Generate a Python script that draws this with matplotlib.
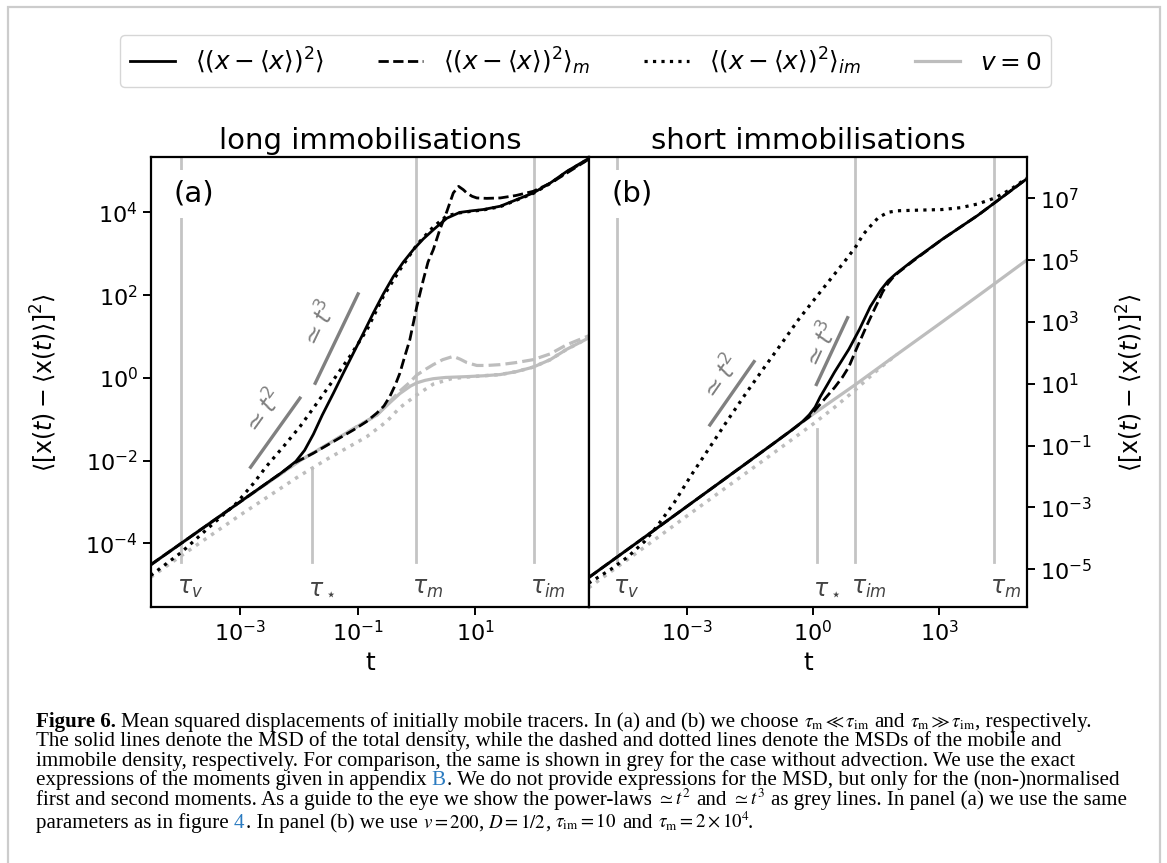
import numpy as np
import matplotlib
matplotlib.use("Agg")
import matplotlib.pyplot as plt
from matplotlib import transforms
from matplotlib.lines import Line2D
from matplotlib.patches import Rectangle
from matplotlib.ticker import FixedLocator, NullLocator

# ---------------- data: log10(t) and log10(MSD) ----------------
# panel (a) long immobilisations
a_total_lt = [-4.52, -4.0, -3.5, -3.0, -2.6, -2.3, -2.05, -1.9, -1.75, -1.6, -1.41, -1.24, -1.07, -0.9,
              -0.73, -0.56, -0.39, -0.22, -0.05, 0.12, 0.29, 0.52, 0.74, 0.95, 1.14, 1.43, 1.71, 1.99,
              2.28, 2.56, 2.94]
a_total_lm = [-4.52, -4.0, -3.5, -3.0, -2.6, -2.3, -2.02, -1.75, -1.36, -0.90, -0.37, 0.12, 0.60, 1.08,
              1.57, 2.03, 2.45, 2.80, 3.10, 3.36, 3.58, 3.86, 4.00, 4.04, 4.07, 4.15, 4.31, 4.47,
              4.71, 4.99, 5.31]
a_mob_lt = [-4.52, -4.0, -3.5, -3.0, -2.6, -2.3, -2.05, -1.75, -1.41, -1.07, -0.85, -0.67, -0.55, -0.45,
            -0.36, -0.28, -0.2, -0.11, 0.01, 0.12, 0.20, 0.29, 0.40, 0.52, 0.63, 0.72, 0.80, 0.86, 0.95,
            1.03, 1.2, 1.43, 1.7, 1.99, 2.3, 2.56, 2.94]
a_mob_lm = [-4.52, -4.0, -3.5, -3.0, -2.6, -2.3, -2.04, -1.82, -1.54, -1.26, -1.06, -0.85, -0.68, -0.45,
            -0.18, 0.11, 0.50, 0.92, 1.73, 2.37, 2.80, 3.10, 3.58, 4.02, 4.47, 4.63, 4.55, 4.47, 4.39,
            4.35, 4.34, 4.35, 4.41, 4.51, 4.72, 4.95, 5.29]
a_imm_lt = [-4.52, -4.0, -3.5, -3.06, -2.77, -2.55, -2.26, -1.98, -1.69, -1.41, -1.13, -0.84, -0.56,
            -0.28, 0.01, 0.29, 0.52, 0.74, 0.95, 1.14, 1.43, 1.71, 1.99, 2.28, 2.56, 2.94]
a_imm_lm = [-4.78, -4.22, -3.58, -3.03, -2.55, -2.14, -1.66, -1.18, -0.61, -0.05, 0.52, 1.16, 1.97,
            2.61, 3.22, 3.65, 3.92, 3.99, 4.03, 4.06, 4.14, 4.30, 4.46, 4.70, 4.98, 5.30]
a_v0_total_lt = [-4.52, -3.0, -2.0, -1.5, -1.0, -0.67, -0.45, -0.28, -0.1, 0.01, 0.15, 0.29, 0.5, 0.86,
                 1.14, 1.43, 1.7, 1.99, 2.28, 2.56, 2.94]
a_v0_total_lm = [-4.52, -3.0, -2.02, -1.6, -1.17, -0.90, -0.60, -0.38, -0.2, -0.12, -0.06, -0.02, 0.01,
                 0.03, 0.05, 0.08, 0.15, 0.26, 0.44, 0.69, 0.97]
a_v0_mob_lt = [-4.52, -3.0, -2.0, -1.5, -1.0, -0.67, -0.45, -0.28, -0.12, 0.01, 0.15, 0.29, 0.45, 0.63,
               0.75, 0.86, 1.03, 1.2, 1.43, 1.7, 1.99, 2.28, 2.56, 2.94]
a_v0_mob_lm = [-4.52, -3.0, -2.02, -1.6, -1.17, -0.90, -0.57, -0.32, -0.12, 0.07, 0.20, 0.32, 0.44, 0.52,
               0.45, 0.37, 0.30, 0.30, 0.32, 0.37, 0.44, 0.58, 0.80, 1.02]
a_v0_imm_lt = [-4.52, -4.0, -3.0, -2.0, -1.5, -1.0, -0.84, -0.5, -0.28, 0.01, 0.29, 0.6, 0.86, 1.14,
               1.43, 1.7, 1.99, 2.28, 2.56, 2.94]
a_v0_imm_lm = [-4.82, -4.30, -3.32, -2.38, -1.95, -1.55, -1.42, -1.05, -0.72, -0.41, -0.15, -0.02, 0.02,
               0.05, 0.08, 0.15, 0.26, 0.44, 0.69, 0.97]
a_t2_lt, a_t2_lm = [-2.82, -1.98], [-2.16, -0.49]
a_t3_lt, a_t3_lm = [-1.72, -0.99], [-0.13, 2.03]
a_tau_names = [r"$\tau_v$", r"$\tau_\star$", r"$\tau_m$", r"$\tau_{im}$"]
a_tau_vals = [1e-4, 0.017, 1.0, 100.0]

# panel (b) short immobilisations
b_total_lt = [-5.33, -4.0, -3.0, -2.0, -1.0, -0.5, -0.25, -0.09, 0.05, 0.17, 0.35, 0.51, 0.68, 0.85,
              1.10, 1.36, 1.61, 1.78, 1.95, 2.38, 3.06, 3.91, 4.5, 5.09]
b_total_lm = [-5.27, -3.96, -2.97, -1.98, -0.99, -0.49, -0.22, 0.0, 0.25, 0.58, 1.0, 1.38, 1.75, 2.12,
              2.76, 3.50, 4.04, 4.33, 4.54, 5.0, 5.67, 6.45, 7.05, 7.65]
b_mob_lt = [-5.33, -4.0, -3.0, -2.0, -1.0, -0.5, -0.25, -0.1, 0.08, 0.3, 0.51, 0.7, 0.85, 1.02, 1.15,
            1.27, 1.40, 1.53, 1.65, 1.78, 1.92, 2.04, 2.38, 3.06, 3.91, 4.5, 5.09]
b_mob_lm = [-5.27, -3.96, -2.97, -1.98, -0.99, -0.49, -0.23, -0.08, 0.20, 0.55, 0.88, 1.22, 1.55, 2.10,
            2.50, 2.87, 3.25, 3.62, 3.97, 4.25, 4.48, 4.62, 4.98, 5.67, 6.45, 7.05, 7.65]
b_imm_lt = [-5.33, -4.8, -4.4, -4.0, -3.7, -3.3, -2.89, -2.5, -2.04, -1.6, -1.19, -0.75, -0.34, 0.1,
            0.51, 0.8, 1.02, 1.2, 1.36, 1.55, 1.78, 2.0, 2.5, 3.06, 3.5, 3.91, 4.33, 4.7, 5.09]
b_imm_lm = [-5.45, -5.0, -4.6, -4.1, -3.6, -2.85, -1.95, -1.15, -0.2, 0.68, 1.47, 2.3, 3.09, 3.85,
            4.55, 5.05, 5.45, 5.85, 6.1, 6.38, 6.55, 6.6, 6.62, 6.64, 6.7, 6.82, 7.02, 7.3, 7.67]
b_v0_total_lt = [-5.33, -3.0, -1.0, 0.0, 1.0, 2.0, 3.0, 4.0, 5.09]
b_v0_total_lm = [-5.27, -2.97, -0.99, 0.02, 0.97, 1.96, 2.94, 3.93, 5.02]
b_v0_imm_lt = [-5.33, -4.0, -3.0, -2.0, -1.0, -0.5, 0.0, 0.5, 1.0, 1.3, 1.6, 2.0]
b_v0_imm_lm = [-5.6, -4.28, -3.28, -2.29, -1.3, -0.8, -0.3, 0.23, 0.8, 1.17, 1.53, 1.96]
b_t2_lt, b_t2_lm = [-2.45, -1.40], [-0.33, 1.72]
b_t3_lt, b_t3_lm = [0.08, 0.82], [0.98, 3.14]
b_tau_names = [r"$\tau_v$", r"$\tau_\star$", r"$\tau_{im}$", r"$\tau_m$"]
b_tau_vals = [2.2e-5, 1.24, 10.0, 2e4]

legend_labels = [r"$\langle(x-\langle x\rangle)^2\rangle$",
                 r"$\langle(x-\langle x\rangle)^2\rangle_m$",
                 r"$\langle(x-\langle x\rangle)^2\rangle_{im}$",
                 r"$v=0$"]
titles = ["long immobilisations", "short immobilisations"]
ylabel = r"$\langle[\mathrm{x}(t)-\langle \mathrm{x}(t)\rangle]^2\rangle$"

# caption: each line is a list of (text, style, space-before) pieces
BLUE = '#2b7bc0'
caption = [
    [("Figure 6.", 'bold', 1),
     ("Mean squared displacements of initially mobile tracers. In (a) and (b) we choose", '', 1),
     (r"$\tau_\mathrm{m} \ll \tau_\mathrm{im}$", 'math', 1), ("and", '', 1),
     (r"$\tau_\mathrm{m} \gg \tau_\mathrm{im}$", 'math', 1), (", respectively.", '', 0)],
    [("The solid lines denote the MSD of the total density, while the dashed and dotted lines denote "
      "the MSDs of the mobile and", '', 1)],
    [("immobile density, respectively. For comparison, the same is shown in grey for the case without "
      "advection. We use the exact", '', 1)],
    [("expressions of the moments given in appendix", '', 1), ("B", 'blue', 1),
     (". We do not provide expressions for the MSD, but only for the (non-)normalised", '', 0)],
    [("first and second moments. As a guide to the eye we show the power-laws", '', 1),
     (r"$\simeq t^2$", 'math', 1), ("and", '', 1), (r"$\simeq t^3$", 'math', 1),
     ("as grey lines. In panel (a) we use the same", '', 1)],
    [("parameters as in figure", '', 1), ("4", 'blue', 1), (". In panel (b) we use", '', 0),
     (r"$v = 200$", 'math', 1), (",", '', 0), (r"$D = 1/2$", 'math', 1), (",", '', 0),
     (r"$\tau_\mathrm{im} = 10$", 'math', 1), ("and", '', 1),
     (r"$\tau_\mathrm{m} = 2 \times 10^4$", 'math', 1), (".", '', 0)],
]

# ---------------- styling ----------------
plt.rcParams['font.family'] = ['DejaVu Sans']
plt.rcParams['mathtext.fontset'] = 'dejavusans'

W, H = 1167, 863
fig = plt.figure(figsize=(W / 100, H / 100), dpi=100)

BLACK = 'black'
LGREY = '#bdbdbd'
VGREY = '#c4c4c4'
DGREY = '#808080'
LW = 2.0

ax_a = fig.add_axes([151 / W, (H - 607) / H, 438 / W, 450 / H])
ax_b = fig.add_axes([589 / W, (H - 607) / H, 438 / W, 450 / H])


def p(v):
    return 10.0 ** np.asarray(v)


def setup(ax, xlim, ylim, xt, yt, title):
    ax.set_xscale('log')
    ax.set_yscale('log')
    ax.set_xlim(10 ** xlim[0], 10 ** xlim[1])
    ax.set_ylim(10 ** ylim[0], 10 ** ylim[1])
    ax.xaxis.set_major_locator(FixedLocator([10.0 ** e for e in xt]))
    ax.yaxis.set_major_locator(FixedLocator([10.0 ** e for e in yt]))
    ax.xaxis.set_minor_locator(NullLocator())
    ax.yaxis.set_minor_locator(NullLocator())
    ax.tick_params(labelsize=16, length=6, width=1.4, direction='out')
    for s in ax.spines.values():
        s.set_linewidth(1.6)
    ax.set_title(title, fontsize=21, pad=6)
    ax.set_xlabel('t', fontsize=18)


setup(ax_a, (-4.515, 2.94), (-5.54, 5.34), [-3, -1, 1], [-4, -2, 0, 2, 4], titles[0])
setup(ax_b, (-5.32, 5.08), (-6.22, 8.34), [-3, 0, 3], [-5, -3, -1, 1, 3, 5, 7], titles[1])
ax_b.yaxis.tick_right()
ax_b.yaxis.set_label_position('right')
ax_a.set_ylabel(ylabel, fontsize=17)
ax_b.set_ylabel(ylabel, fontsize=17)
ax_a.yaxis.set_label_coords(-0.208, 0.5)
ax_b.yaxis.set_label_coords(1.20, 0.5)


def taus(ax, vals, names, star_top):
    bl = transforms.blended_transform_factory(ax.transData, ax.transAxes)
    off = bl + transforms.ScaledTranslation(-4 / 100, 0, fig.dpi_scale_trans)
    for v, n in zip(vals, names):
        top = star_top if 'star' in n else 1.0
        ax.axvline(v, ymin=0.1, ymax=top, color=VGREY, lw=2.0, zorder=1)
        ax.text(v, 0.043, n, transform=off, ha='left', va='center', fontsize=17,
                color='#444444')


taus(ax_a, a_tau_vals, a_tau_names, 0.31)
taus(ax_b, b_tau_vals, b_tau_names, 0.395)

# grey (v = 0) curves
ax_a.plot(p(a_v0_imm_lt), p(a_v0_imm_lm), ls=':', color=LGREY, lw=LW + 0.5, zorder=2)
ax_a.plot(p(a_v0_mob_lt), p(a_v0_mob_lm), ls='--', color=LGREY, lw=LW + 0.3, zorder=2)
ax_a.plot(p(a_v0_total_lt), p(a_v0_total_lm), ls='-', color=LGREY, lw=LW + 0.3, zorder=2)
ax_b.plot(p(b_v0_imm_lt), p(b_v0_imm_lm), ls=':', color=LGREY, lw=LW + 0.5, zorder=2)
ax_b.plot(p(b_v0_total_lt), p(b_v0_total_lm), ls='-', color=LGREY, lw=LW + 0.3, zorder=2)

# black curves
ax_a.plot(p(a_imm_lt), p(a_imm_lm), ls=':', color=BLACK, lw=LW + 0.3, zorder=3)
ax_a.plot(p(a_mob_lt), p(a_mob_lm), ls='--', color=BLACK, lw=LW, zorder=3)
ax_a.plot(p(a_total_lt), p(a_total_lm), ls='-', color=BLACK, lw=LW, zorder=4)
ax_b.plot(p(b_imm_lt), p(b_imm_lm), ls=':', color=BLACK, lw=LW + 0.3, zorder=3)
ax_b.plot(p(b_mob_lt), p(b_mob_lm), ls='--', color=BLACK, lw=LW, zorder=3)
ax_b.plot(p(b_total_lt), p(b_total_lm), ls='-', color=BLACK, lw=LW, zorder=4)


def guide(ax, lt, lm, label, tx, ty):
    x, y = p(lt), p(lm)
    ax.plot(x, y, color=DGREY, lw=2.4, zorder=2)
    d0 = ax.transData.transform((x[0], y[0]))
    d1 = ax.transData.transform((x[1], y[1]))
    ang = np.degrees(np.arctan2(d1[1] - d0[1], d1[0] - d0[0]))
    ax.text(10 ** tx, 10 ** ty, label, rotation=ang, rotation_mode='anchor', ha='center',
            va='center', fontsize=17, color=DGREY)


guide(ax_a, a_t2_lt, a_t2_lm, r"$\simeq t^2$", -2.60, -0.85)
guide(ax_a, a_t3_lt, a_t3_lm, r"$\simeq t^3$", -1.64, 1.28)
guide(ax_b, b_t2_lt, b_t2_lm, r"$\simeq t^2$", -2.17, 1.15)
guide(ax_b, b_t3_lt, b_t3_lm, r"$\simeq t^3$", 0.21, 2.22)

for ax, lab in ((ax_a, '(a)'), (ax_b, '(b)')):
    ax.text(0.052, 0.918, lab, transform=ax.transAxes, ha='left', va='center', fontsize=21,
            zorder=6, bbox=dict(boxstyle='square,pad=0.35', facecolor='white', edgecolor='none'))

handles = [Line2D([], [], color=BLACK, lw=LW, ls='-'),
           Line2D([], [], color=BLACK, lw=LW, ls='--'),
           Line2D([], [], color=BLACK, lw=LW + 0.3, ls=':'),
           Line2D([], [], color=LGREY, lw=LW + 0.3, ls='-')]
fig.legend(handles, legend_labels, ncol=4, loc='center', bbox_to_anchor=(585.5 / W, 1 - 61 / H),
           fontsize=17.8, columnspacing=2.2, handlelength=1.8, borderpad=0.42)

# frame around the figure
fig.add_artist(Rectangle((7.5 / W, -0.01), (1160 - 7.5) / W, 1.01 - 7 / H, transform=fig.transFigure,
                         fill=False, edgecolor='#cccccc', lw=1.6))

# ---------------- caption ----------------
renderer = fig.canvas.get_renderer()
ident = transforms.IdentityTransform()
CS = 15.1
cap = dict(fontfamily='Liberation Serif', math_fontfamily='stix')
styles = {'': {'fontsize': CS}, 'bold': {'fontsize': CS, 'fontweight': 'bold'},
          'blue': {'fontsize': CS, 'color': BLUE}, 'math': {'fontsize': CS - 1.5}}

tmp1 = fig.text(0, 0, 'a a', transform=ident, fontsize=CS, **cap)
tmp2 = fig.text(0, 0, 'aa', transform=ident, fontsize=CS, **cap)
sw = tmp1.get_window_extent(renderer).width - tmp2.get_window_extent(renderer).width
tmp1.remove()
tmp2.remove()

x0 = 36
baselines = [727, 746.4, 765.8, 785.2, 804.6, 827.5]
for i, pieces in enumerate(caption):
    ybase = H - baselines[i]
    x = x0
    prev = ''
    for k, (s, st, gap) in enumerate(pieces):
        if k > 0:
            if gap:
                x += sw
            else:
                x += -1.5 if prev == 'math' else 1.0
        t = fig.text(x, ybase, s, transform=ident, ha='left', va='baseline', **cap, **styles[st])
        x = t.get_window_extent(renderer).x1
        prev = st

fig.savefig('out.png', dpi=100)
